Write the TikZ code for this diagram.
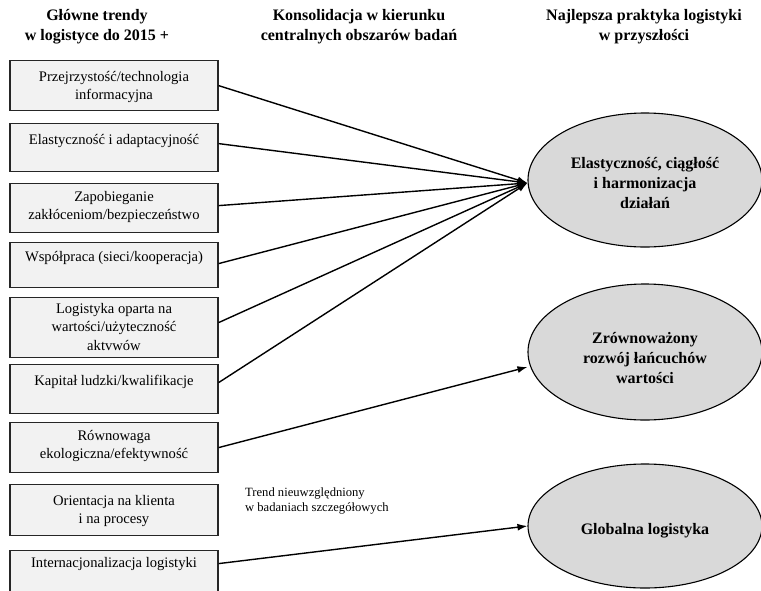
\documentclass[tikz,border=0pt]{standalone}
\usepackage{fontspec}
\setmainfont{Liberation Serif}
\usetikzlibrary{arrows.meta,shapes.geometric,calc}
\definecolor{boxfill}{HTML}{F2F2F2}
\definecolor{ellfill}{HTML}{D9D9D9}
\begin{document}
\begin{tikzpicture}[x=1pt,y=-1pt,
  trendbox/.style={draw=black!85, line width=1.2pt, fill=boxfill, minimum width=208pt, inner sep=0pt, anchor=north},
  boxtext/.style={anchor=north, align=center, font=\fontsize{14.6}{18.5}\selectfont, inner sep=0pt},
  goal/.style={ellipse, draw=black, line width=1.1pt, fill=ellfill, inner sep=0pt, minimum width=234pt},
  goaltext/.style={align=center, font=\bfseries\fontsize{16}{20}\selectfont, inner sep=0pt},
  head/.style={align=center, font=\bfseries\fontsize{16}{20}\selectfont, inner sep=0pt},
  note/.style={align=left, anchor=north west, font=\fontsize{12.6}{14.5}\selectfont, inner sep=0pt},
  link/.style={line width=1.4pt, -{Latex[length=10pt,width=7pt]}}
]
\useasboundingbox (0,0) rectangle (761,590);
\clip (0,0) rectangle (761,590);

% headers
\node[head] (h1) at (97,27) {Główne trendy\\w logistyce do 2015 +};
\node[head] (h2) at (359,27) {Konsolidacja w kierunku\\centralnych obszarów badań};
\node[head] (h3) at (644,27) {Najlepsza praktyka logistyki\\w przyszłości};

% boxes
\node[trendbox, minimum height=50pt] (b1) at (114,60) {};
\node[trendbox, minimum height=48pt] (b2) at (114,123) {};
\node[trendbox, minimum height=49pt] (b3) at (114,183) {};
\node[trendbox, minimum height=45pt] (b4) at (114,242) {};
\node[trendbox, minimum height=60pt] (b5) at (114,297) {};
\node[trendbox, minimum height=49pt] (b6) at (114,364) {};
\node[trendbox, minimum height=50pt] (b7) at (114,422) {};
\node[trendbox, minimum height=51pt] (b8) at (114,484) {};
\node[trendbox, minimum height=48pt] (b9) at (114,550) {};

\node[boxtext] (t1) at (114,71) {Przejrzystość/technologia\\informacyjna};
\node[boxtext] (t2) at (114,134) {Elastyczność i adaptacyjność};
\node[boxtext] (t3) at (114,191) {Zapobieganie\\zakłóceniom/bezpieczeństwo};
\node[boxtext] (t4) at (114,251) {Współpraca (sieci/kooperacja)};
\node[boxtext] (t5) at (114,303) {Logistyka oparta na\\wartości/użyteczność\\aktvwów};
\node[boxtext] (t6) at (114,375) {Kapitał ludzki/kwalifikacje};
\node[boxtext] (t7) at (114,430) {Równowaga\\ekologiczna/efektywność};
\node[boxtext] (t8) at (114,495) {Orientacja na klienta\\i na procesy};
\node[boxtext] (t9) at (114,557) {Internacjonalizacja logistyki};

% ellipses
\node[goal, minimum height=134pt] (e1) at (645,180) {};
\node[goal, minimum height=136pt] (e2) at (645,352) {};
\node[goal, minimum height=124pt] (e3) at (645,526) {};
\node[goaltext] (g1) at (645,183) {Elastyczność, ciągłość\\i harmonizacja\\działań};
\node[goaltext] (g2) at (645,358) {Zrównoważony\\rozwój łańcuchów\\wartości};
\node[goaltext] (g3) at (645,531) {Globalna logistyka};

% note
\node[note] (n1) at (245,488) {Trend nieuwzględniony\\w badaniach szczegółowych};

% connectors
\draw[link] (b1.east) -- ([yshift=-3pt]e1.west);
\draw[link] ([yshift=4pt]b2.east) -- ([yshift=-3pt]e1.west);
\draw[link] ([yshift=2.5pt]b3.east) -- ([yshift=-3pt]e1.west);
\draw[link] ([yshift=1.5pt]b4.east) -- ([yshift=-3pt]e1.west);
\draw[link] ([yshift=5pt]b5.east) -- ([yshift=-3pt]e1.west);
\draw[link] ([yshift=6.5pt]b6.east) -- ([yshift=-3pt]e1.west);
\draw[link] (b7.east) -- ([yshift=-15pt]e2.west);
\draw[link] ([yshift=11pt]b9.east) -- (e3.west);
\end{tikzpicture}
\end{document}
